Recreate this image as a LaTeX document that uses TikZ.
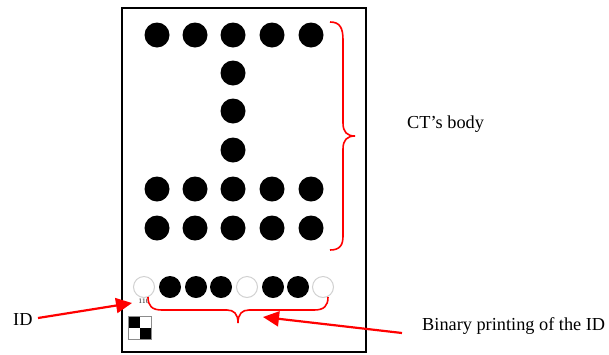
\documentclass[tikz,border=0pt]{standalone}
\usepackage{fontspec}
\setmainfont{Liberation Serif}
\usetikzlibrary{arrows.meta}
\begin{document}
\begin{tikzpicture}[x=1pt,y=-1pt,
  bigdot/.style={circle,fill=black,inner sep=0pt,minimum size=25pt},
  bitone/.style={circle,fill=black,inner sep=0pt,minimum size=22pt},
  bitzero/.style={circle,draw=black!18,line width=1pt,fill=white,inner sep=0pt,minimum size=21pt},
  bracered/.style={draw=red,line width=1.6pt},
  callout/.style={draw=red,line width=2.2pt,-{Triangle[length=16pt,width=15pt]}},
  label/.style={font=\fontsize{18.3}{20}\selectfont,anchor=base west,inner sep=0pt}]
\useasboundingbox (0,0) rectangle (609,354);
% tag frame
\draw[line width=1.6pt] (122,8) rectangle (366,352);
% body: top bar
\foreach \i/\x in {1/157,2/195,3/233,4/272,5/311}
  \node[bigdot] (t\i) at (\x,35) {};
% body: stem
\foreach \i/\y in {1/73,2/111,3/150}
  \node[bigdot] (s\i) at (233,\y) {};
% body: base rows
\foreach \i/\x in {1/157,2/195,3/233,4/272,5/311}{
  \node[bigdot] (a\i) at (\x,189) {};
  \node[bigdot] (b\i) at (\x,228) {};
}
% binary ID row (0 = hollow, 1 = filled)
\foreach \i/\x/\b in {1/144/0,2/170/1,3/196/1,4/221/1,5/247/0,6/273/1,7/298/1,8/323/0}{
  \ifnum\b=1 \node[bitone] (d\i) at (\x,287) {};
  \else \node[bitzero] (d\i) at (\x,287) {}; \fi
}
% printed ID number
\node[font=\fontsize{6.5}{7}\selectfont\sffamily\bfseries,text=black!65,inner sep=0pt] (idnum) at (144,301) {110};
% orientation checker
\fill[black] (128,316) rectangle (139.5,327.5);
\fill[black] (139.5,327.5) rectangle (151,339);
\draw[black!45,line width=1pt] (128,316) rectangle (151,339);
% brace over the body
\draw[bracered] (330,22) .. controls (340,22) and (343,28) .. (343,40) -- (343,123)
  .. controls (343,132) and (347,136) .. (355,136)
  .. controls (347,136) and (343,140) .. (343,149) -- (343,236)
  .. controls (343,245) and (340,250) .. (330,250);
% brace under the binary row
\draw[bracered] (148,297) .. controls (148,306) and (152,310) .. (162,310) -- (227,310)
  .. controls (234,310) and (238,314) .. (238,323)
  .. controls (238,314) and (242,310) .. (249,310) -- (314,310)
  .. controls (324,310) and (328,306) .. (328,297);
% labels
\node[label] (body) at (407,128) {CT’s body};
\node[label] (bin) at (422,330) {Binary printing of the ID};
\node[label] (id) at (13,325) {ID};
% callout arrows
\coordinate (idtail) at (38,318);
\coordinate (idtip) at (132,303);
\coordinate (bintail) at (402,333);
\coordinate (bintip) at (263,317);
\draw[callout] (idtail) -- (idtip);
\draw[callout] (bintail) -- (bintip);
\end{tikzpicture}
\end{document}
